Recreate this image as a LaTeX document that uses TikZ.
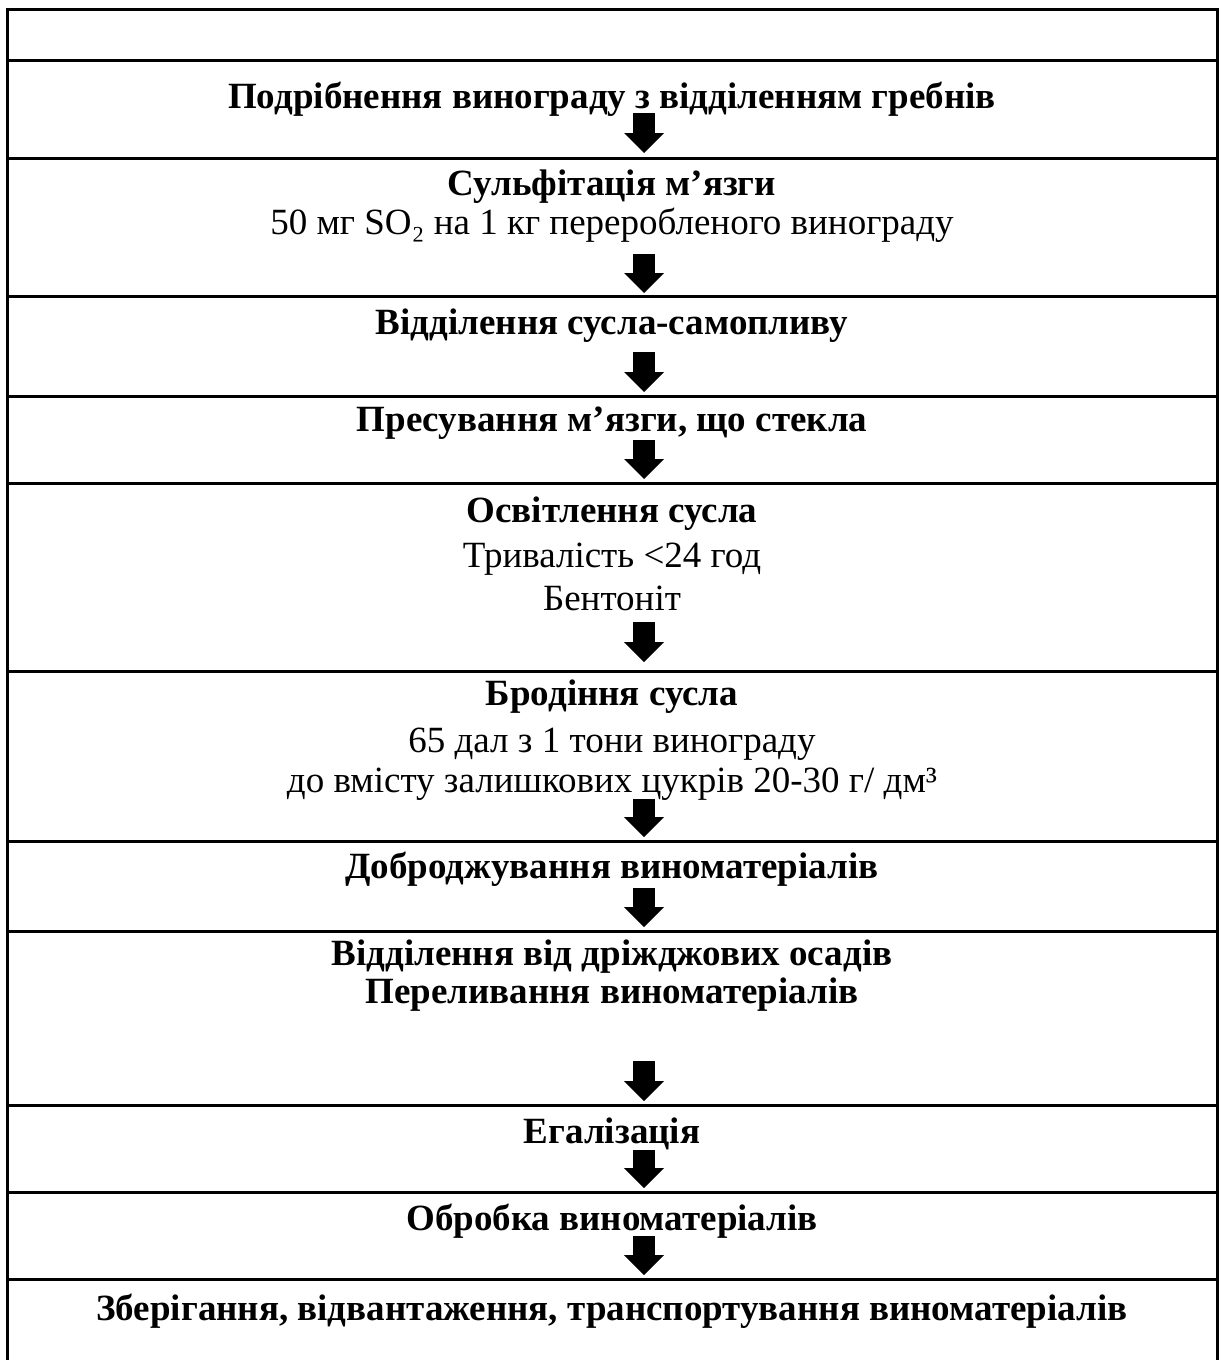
\documentclass[tikz,border=0pt]{standalone}
\usepackage{fontspec}
\setmainfont{Liberation Serif}
\usetikzlibrary{arrows.meta}

\begin{document}
\begin{tikzpicture}[x=1pt,y=-1pt,
    rule/.style={line width=3pt},
    stage/.style={anchor=base,inner sep=0pt,font=\fontsize{37}{42}\selectfont\bfseries},
    note/.style={anchor=base,inner sep=0pt,font=\fontsize{37}{42}\selectfont},
    flow/.style={line width=22pt,-{Triangle[length=20pt,width=40pt,line width=0pt]}}]
    \useasboundingbox(0,0)rectangle(1222,1360);
    % frame, open at the bottom
    \draw[rule](7,1360)--(7,9)--(1217,9)--(1217,1360);
    \foreach \y in {60,158,296,396,483,671,841,931,1105,1192,1279}
        \draw[rule](7,\y)--(1217,\y);
    % stages
    \node[stage](crush)at(612,108){Подрібнення винограду з відділенням гребнів};
    \node[stage](sulf)at(612,195){Сульфітація м’язги};
    \node[note](sulfdose)at(612,234){50 мг SO₂ на 1 кг переробленого винограду};
    \node[stage](drain)at(612,334){Відділення сусла-самопливу};
    \node[stage](press)at(612,431){Пресування м’язги, що стекла};
    \node[stage](clar)at(612,522){Освітлення сусла};
    \node[note](clartime)at(612,567){Тривалість <24 год};
    \node[note](claragent)at(612,610){Бентоніт};
    \node[stage](ferm)at(612,705){Бродіння сусла};
    \node[note](fermyield)at(612,752){65 дал з 1 тони винограду};
    \node[note](fermsugar)at(612,792){до вмісту залишкових цукрів 20-30 г/ дм³};
    \node[stage](post)at(612,878){Доброджування виноматеріалів};
    \node[stage](lees)at(612,965){Відділення від дріжджових осадів};
    \node[stage](rack)at(612,1003){Переливання виноматеріалів};
    \node[stage](blend)at(612,1143){Егалізація};
    \node[stage](treat)at(612,1230){Обробка виноматеріалів};
    \node[stage](store)at(612,1320){Зберігання, відвантаження, транспортування виноматеріалів};
    % block arrows
    \foreach \i/\a/\b in {1/113/153,2/254/293,3/352/392,4/440/479,5/622/662,
                          6/799/837,7/888/927,8/1061/1101,9/1150/1188,10/1236/1275}{
        \coordinate(from\i)at(644,\a);
        \coordinate(to\i)at(644,\b);
        \draw[flow](from\i)--(to\i);
    }
\end{tikzpicture}
\end{document}
